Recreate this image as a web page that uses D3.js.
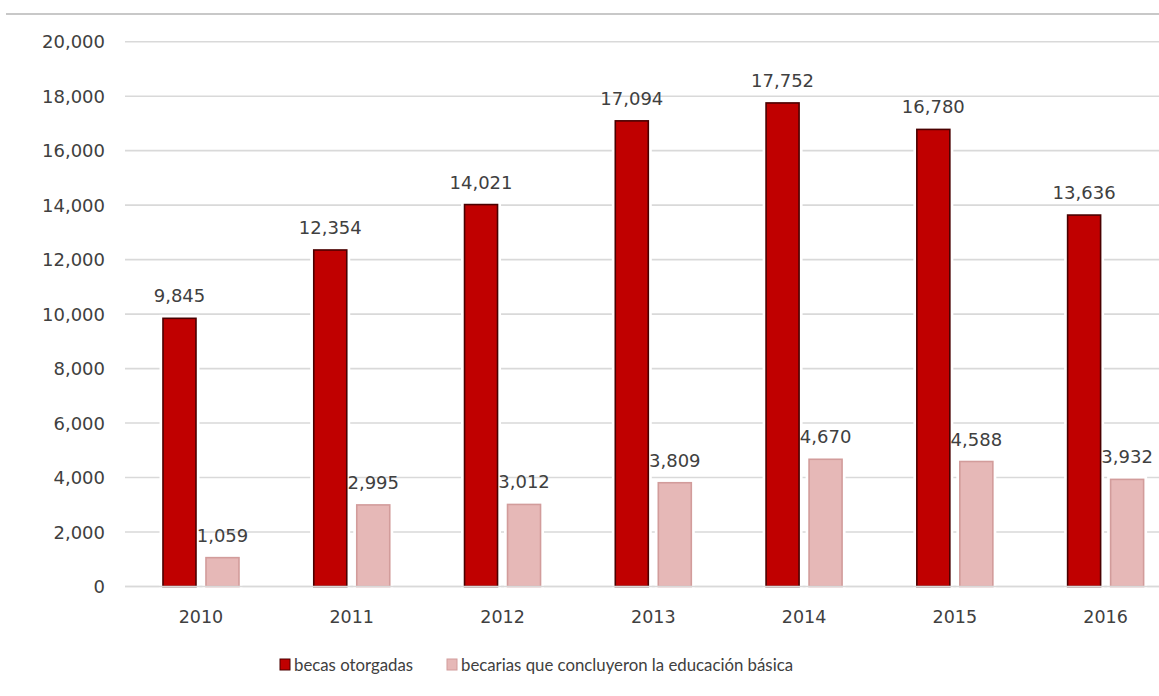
<!DOCTYPE html>
<html>
<head>
<meta charset="utf-8">
<script src="https://cdn.jsdelivr.net/npm/d3@7"></script>
<style>
  body { margin: 0; background: #fff; }
  text { font-family: "DejaVu Sans", sans-serif; fill: #404040; }
  .legend text { font-family: Lato, "DejaVu Sans", sans-serif; }
</style>
</head>
<body>
<svg id="chart"></svg>
<script>
const years = ['2010', '2011', '2012', '2013', '2014', '2015', '2016'];
const becasOtorgadas = [9845, 12354, 14021, 17094, 17752, 16780, 13636];
const becariasConcluyeron = [1059, 2995, 3012, 3809, 4670, 4588, 3932];
const seriesNames = ['becas otorgadas', 'becarias que concluyeron la educación básica'];
const yTicks = [0, 2000, 4000, 6000, 8000, 10000, 12000, 14000, 16000, 18000, 20000];

const width = 1159, height = 696;
const svg = d3.select('#chart').attr('width', width).attr('height', height);

const fmt = d3.format(',');

// band runs a little past the right edge (the source image is cropped there)
const x = d3.scaleBand().domain(years).range([125.6, 1181]);
const y = d3.scaleLinear().domain([0, 20000]).range([586.5, 41.7]);

const colors = ['#C00000', '#E6B8B7'];
const strokes = ['#4a0000', '#d29c9b'];
const barW = 33;
const offsets = [-38, 5];

// top rule
svg.append('line')
  .attr('x1', 6).attr('x2', width)
  .attr('y1', 14).attr('y2', 14)
  .attr('stroke', '#c8c8c8').attr('stroke-width', 2);

// gridlines
svg.append('g').selectAll('line')
  .data(yTicks)
  .join('line')
  .attr('x1', 125).attr('x2', width)
  .attr('y1', d => y(d)).attr('y2', d => y(d))
  .attr('stroke', '#d9d9d9').attr('stroke-width', 1.6);

// y tick labels
svg.append('g').selectAll('text')
  .data(yTicks)
  .join('text')
  .attr('x', 105)
  .attr('y', d => y(d))
  .attr('dy', '0.36em')
  .attr('text-anchor', 'end')
  .attr('font-size', 18)
  .text(d => fmt(d));

// bars
const series = [becasOtorgadas, becariasConcluyeron];
series.forEach((vals, s) => {
  const g = svg.append('g');
  const data = years.map((yr, i) => ({ yr, v: vals[i] }));
  const cx = d => x(d.yr) + x.bandwidth() / 2 + offsets[s];

  // white halo that breaks the gridlines around each bar
  g.selectAll('.halo')
    .data(data)
    .join('rect')
    .attr('class', 'halo')
    .attr('x', cx)
    .attr('y', d => y(d.v))
    .attr('width', barW)
    .attr('height', d => y(0) - y(d.v))
    .attr('fill', '#fff')
    .attr('stroke', '#fff')
    .attr('stroke-width', 7);

  g.selectAll('.bar')
    .data(data)
    .join('rect')
    .attr('class', 'bar')
    .attr('x', cx)
    .attr('y', d => y(d.v))
    .attr('width', barW)
    .attr('height', d => y(0) - y(d.v))
    .attr('fill', colors[s])
    .attr('stroke', strokes[s])
    .attr('stroke-width', 1.6);

  g.selectAll('.lbl')
    .data(data)
    .join('text')
    .attr('class', 'lbl')
    .attr('x', d => cx(d) + barW / 2)
    .attr('y', d => y(d.v) - 16)
    .attr('text-anchor', 'middle')
    .attr('font-size', 18)
    .text(d => fmt(d.v));
});

// baseline
svg.append('line')
  .attr('x1', 125).attr('x2', width)
  .attr('y1', y(0)).attr('y2', y(0))
  .attr('stroke', '#d9d9d9').attr('stroke-width', 1.6);

// x labels
svg.append('g').selectAll('text')
  .data(years)
  .join('text')
  .attr('x', d => x(d) + x.bandwidth() / 2)
  .attr('y', 623)
  .attr('text-anchor', 'middle')
  .attr('font-size', 17.5)
  .text(d => d);

// legend
const legendX = [280, 447];
const legend = svg.append('g').attr('class', 'legend');
seriesNames.forEach((name, s) => {
  legend.append('rect')
    .attr('x', legendX[s]).attr('y', 659)
    .attr('width', 10).attr('height', 11)
    .attr('fill', colors[s])
    .attr('stroke', strokes[s]).attr('stroke-width', 1);
  legend.append('text')
    .attr('x', legendX[s] + 14)
    .attr('y', 671)
    .attr('font-size', 16.8)
    .text(name);
});
</script>
</body>
</html>
